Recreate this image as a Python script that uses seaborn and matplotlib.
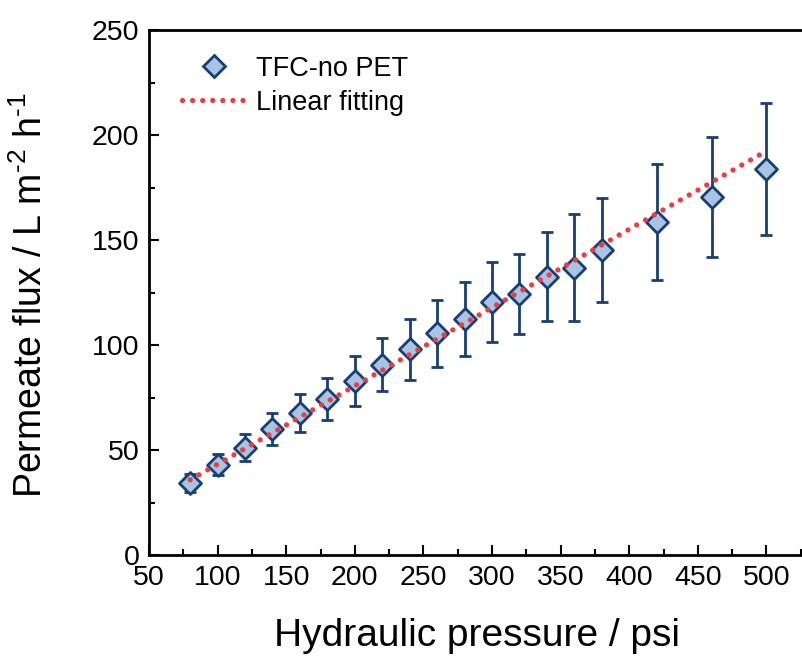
import numpy as np
import pandas as pd
import matplotlib
matplotlib.use("Agg")
import matplotlib.pyplot as plt
import seaborn as sns
from matplotlib.lines import Line2D

# ---- data ----
pressure = [80, 100, 120, 140, 160, 180, 200, 220, 240, 260, 280, 300,
            320, 340, 360, 380, 420, 460, 500]
flux = [34.3, 42.9, 51.0, 60.0, 67.6, 74.3, 82.9, 90.5, 98.0, 105.5, 112.4,
        120.5, 124.3, 132.4, 136.7, 145.2, 158.6, 170.5, 183.8]
flux_err = [4.5, 5.0, 6.4, 7.6, 9.0, 10.0, 12.0, 12.6, 14.5, 15.8, 17.6,
            19.0, 19.0, 21.2, 25.5, 24.8, 27.5, 28.7, 31.3]
# linear fit line as drawn in the reference (end points)
fit_pressure = [80, 500]
fit_flux = [35.8, 192.4]
x_ticks = [50, 100, 150, 200, 250, 300, 350, 400, 450, 500]
y_ticks = [0, 50, 100, 150, 200, 250]
series_label = "TFC-no PET"
fit_label = "Linear fitting"

df = pd.DataFrame({"pressure": pressure, "flux": flux, "err": flux_err})
fit_df = pd.DataFrame({"pressure": fit_pressure, "flux": fit_flux})

sns.set_style("ticks")
plt.rcParams["font.family"] = ["Liberation Sans", "DejaVu Sans"]
plt.rcParams["mathtext.fontset"] = "custom"
plt.rcParams["mathtext.rm"] = "Liberation Sans"
plt.rcParams["text.color"] = "black"
plt.rcParams["axes.labelcolor"] = "black"

navy = "#173f73"
face = "#a9c3e4"
red = "#ee3b3f"

fig = plt.figure(figsize=(8.02, 6.62), dpi=100)
ax = fig.add_axes([149 / 802, 1 - 555 / 662, 686 / 802, 525 / 662])

ax.errorbar(df["pressure"], df["flux"], yerr=df["err"], fmt="none",
            ecolor=navy, elinewidth=2.0, capsize=4.4, capthick=2.0, zorder=2)
sns.scatterplot(data=df, x="pressure", y="flux", marker="D", s=125,
                color=face, edgecolor=navy, linewidth=2.0, zorder=3, ax=ax,
                legend=False)
sns.lineplot(data=fit_df, x="pressure", y="flux", color=red, lw=3.8,
             linestyle=(0, (0.01, 1.9)), dash_capstyle="round", zorder=4,
             ax=ax, legend=False)

ax.set_xlim(50, 550)
ax.set_ylim(0, 250)
ax.set_xticks(x_ticks)
ax.set_yticks(y_ticks)
ax.set_xticks(np.arange(75, 550, 50), minor=True)
ax.set_yticks(np.arange(25, 250, 50), minor=True)
ax.tick_params(which="both", direction="in", top=False, right=False,
               labelsize=20.5, width=1.5, colors="black", labelcolor="black")
ax.tick_params(which="major", length=7, pad=7)
ax.tick_params(which="minor", length=4)
for s in ax.spines.values():
    s.set_linewidth(2.0)
    s.set_color("black")

ax.set_xlabel("Hydraulic pressure / psi", fontsize=28)
ax.xaxis.set_label_coords((477 - 149) / 686, (555 - 618) / 525)
ax.set_ylabel("Permeate flux / L m$^{\\mathregular{\u2010}\\mathregular{2}}$ "
              "h$^{\\mathregular{\u2010}\\mathregular{1}}$",
              fontsize=27)
ax.yaxis.set_label_coords((50 - 149) / 686, (555 - 295) / 525)

handles = [
    Line2D([], [], marker="D", ls="none", markersize=11, markerfacecolor=face,
           markeredgecolor=navy, markeredgewidth=2.0),
    Line2D([], [], color=red, lw=3.8, linestyle=(0, (0.01, 1.9)),
           dash_capstyle="round"),
]
ax.legend(handles, [series_label, fit_label], loc="upper left",
          bbox_to_anchor=(0.032, 0.972), frameon=False, fontsize=19.5,
          handlelength=2.4, handletextpad=0.35, labelspacing=0.3,
          borderaxespad=0)

fig.savefig("out.png", dpi=100)
